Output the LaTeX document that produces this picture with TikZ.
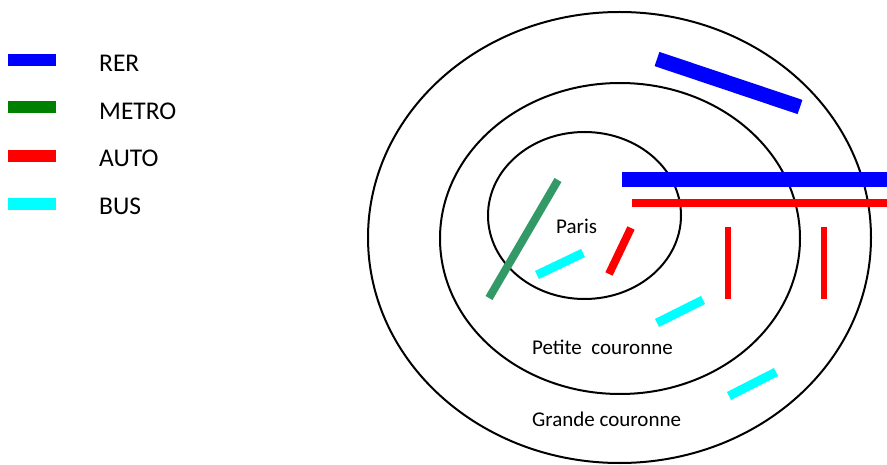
\documentclass[tikz,border=0pt]{standalone}
\usepackage{fontspec}
\setmainfont{Carlito}
\definecolor{rerblue}{RGB}{0,0,255}
\definecolor{metrogreen}{RGB}{0,128,0}
\definecolor{metroline}{RGB}{51,153,102}
\definecolor{autored}{RGB}{255,0,0}
\definecolor{buscyan}{RGB}{0,255,255}
\begin{document}
\begin{tikzpicture}[x=1pt,y=-1pt,
  ring/.style={draw=black,line width=2pt},
  legtext/.style={anchor=base west,inner sep=0pt,font=\fontsize{25.5}{30}\selectfont},
  zonetext/.style={anchor=base west,inner sep=0pt,font=\fontsize{21}{25}\selectfont},
  rer/.style={draw=rerblue,line width=15pt},
  metro/.style={draw=metroline,line width=8pt},
  auto/.style={draw=autored,line width=8pt},
  autothin/.style={draw=autored,line width=6pt},
  bus/.style={draw=buscyan,line width=9pt},
  legbar/.style={line width=12pt}]
\useasboundingbox (0,0) rectangle (887,465);
% rings
\draw[ring] (619.5,237.5) ellipse [x radius=251.5, y radius=225.5];
\draw[ring] (620,238.5) ellipse [x radius=180, y radius=155.5];
\draw[ring] (584.5,215.5) ellipse [x radius=96.5, y radius=83.5];
% legend
\coordinate (l1a) at (8,60); \coordinate (l1b) at (56,60);
\coordinate (l2a) at (8,107); \coordinate (l2b) at (56,107);
\coordinate (l3a) at (8,156); \coordinate (l3b) at (56,156);
\coordinate (l4a) at (8,204); \coordinate (l4b) at (56,204);
\draw[legbar,draw=rerblue] (l1a) -- (l1b);
\draw[legbar,draw=metrogreen] (l2a) -- (l2b);
\draw[legbar,draw=autored] (l3a) -- (l3b);
\draw[legbar,draw=buscyan] (l4a) -- (l4b);
\node[legtext] (trer) at (99,72) {RER};
\node[legtext] (tmetro) at (99,120) {METRO};
\node[legtext] (tauto) at (99,167) {AUTO};
\node[legtext] (tbus) at (99,215) {BUS};
% zone labels
\node[zonetext] (paris) at (556,234) {Paris};
\node[zonetext] (petite) at (532,354) {Petite~~couronne};
\node[zonetext] (grande) at (532,426) {Grande couronne};
% RER
\coordinate (r1a) at (657,59); \coordinate (r1b) at (800,107);
\coordinate (r2a) at (622,180); \coordinate (r2b) at (887,180);
\draw[rer] (r1a) -- (r1b);
\draw[rer] (r2a) -- (r2b);
% AUTO
\coordinate (a1a) at (632,203.5); \coordinate (a1b) at (887,203.5);
\coordinate (a2a) at (631,228); \coordinate (a2b) at (609,274);
\coordinate (a3a) at (728,227); \coordinate (a3b) at (728,299);
\coordinate (a4a) at (824,227); \coordinate (a4b) at (824,299);
\draw[auto] (a1a) -- (a1b);
\draw[auto] (a2a) -- (a2b);
\draw[autothin] (a3a) -- (a3b);
\draw[autothin] (a4a) -- (a4b);
% METRO
\coordinate (m1a) at (558,180); \coordinate (m1b) at (489,298);
\draw[metro] (m1a) -- (m1b);
% BUS
\coordinate (b1a) at (583,253); \coordinate (b1b) at (537,275);
\coordinate (b2a) at (703,300); \coordinate (b2b) at (657,323);
\coordinate (b3a) at (776,372); \coordinate (b3b) at (729,396);
\draw[bus] (b1a) -- (b1b);
\draw[bus] (b2a) -- (b2b);
\draw[bus] (b3a) -- (b3b);
\end{tikzpicture}
\end{document}
